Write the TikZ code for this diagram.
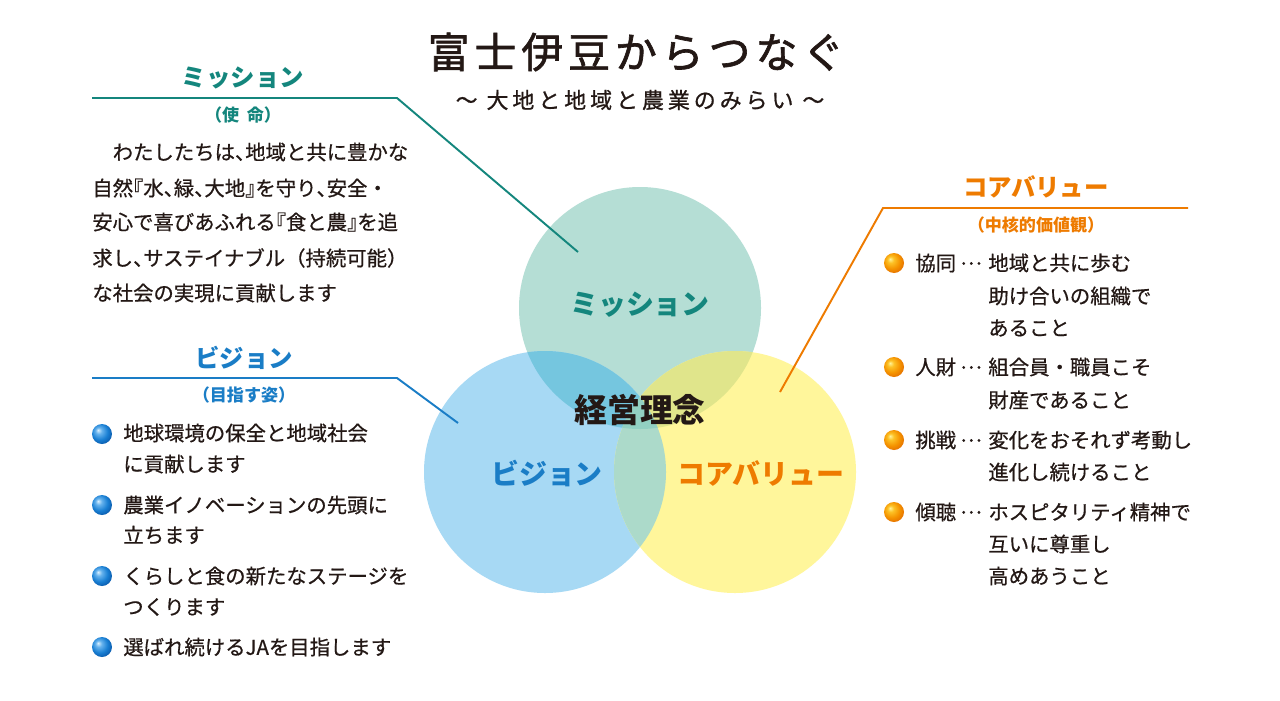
\documentclass[tikz,border=0pt]{standalone}
\usepackage{fontspec}
\setmainfont{Noto Sans CJK JP}
\usepackage{tikz}
\definecolor{ink}{HTML}{231815}
\definecolor{misgreen}{HTML}{14867D}
\definecolor{visblue}{HTML}{1A7DC6}
\definecolor{coreorange}{HTML}{EE7B00}
\definecolor{misfill}{HTML}{B5DED5}
\definecolor{visfill}{HTML}{A7D9F4}
\definecolor{corefill}{HTML}{FFF69B}
\definecolor{mvfill}{HTML}{75C6DF}
\definecolor{vcfill}{HTML}{ACDACA}
\definecolor{mcfill}{HTML}{E0E58B}
\definecolor{allfill}{HTML}{92D0C2}
\pgfdeclareradialshading{bluesphere}{\pgfqpoint{-10bp}{10bp}}{rgb(0bp)=(0.85,0.94,1); rgb(8bp)=(0.40,0.70,0.93); rgb(20bp)=(0.10,0.50,0.83); rgb(30bp)=(0.04,0.36,0.68); rgb(50bp)=(0.04,0.36,0.68)}
\pgfdeclareradialshading{orangesphere}{\pgfqpoint{-10bp}{10bp}}{rgb(0bp)=(1,0.95,0.6); rgb(8bp)=(0.99,0.76,0.15); rgb(20bp)=(0.96,0.58,0.0); rgb(30bp)=(0.90,0.45,0.0); rgb(50bp)=(0.90,0.45,0.0)}
\newcommand{\halfp}[1]{{\addfontfeature{RawFeature=+halt}#1}}
\newcommand{\middots}{\raisebox{0.3em}{…}}

\begin{document}
\begin{tikzpicture}[x=0.02cm,y=-0.02cm,
  body/.style={anchor=west,text=ink,inner sep=0pt,font=\fontsize{11.6}{14}\selectfont\addfontfeatures{FakeBold=0.6}},
  head/.style={inner sep=0pt,font=\fontsize{13.9}{16}\selectfont\bfseries},
  subhead/.style={inner sep=0pt,font=\fontsize{9.7}{12}\selectfont\bfseries},
  ringlabel/.style={inner sep=0pt,font=\fontsize{15.9}{18}\selectfont\bfseries},
  dot/.style={circle,inner sep=0pt,minimum size=0.4cm,shading=#1},
  leader/.style={line width=1.1pt}]
\useasboundingbox (0,0) rectangle (1280,700);
\fill[white] (0,0) rectangle (1280,700);

% Title
\node[text=ink,inner sep=0pt,font=\fontsize{23.8}{28}\selectfont\addfontfeatures{LetterSpace=12,FakeBold=1.6}] (title) at (636,52) {富士伊豆からつなぐ};
\node[text=ink,inner sep=0pt,font=\fontsize{12.5}{15}\selectfont\addfontfeatures{LetterSpace=18,FakeBold=0.8}] (subtitle) at (640,100) {～ 大地と地域と農業のみらい ～};

% Venn circles
\coordinate (mis) at (640,308);
\coordinate (vis) at (545,472);
\coordinate (core) at (735,472);
\fill[misfill] (mis) circle (121);
\fill[visfill] (vis) circle (121);
\fill[corefill] (core) circle (121);
\begin{scope}
  \clip (mis) circle (121);
  \fill[mvfill] (vis) circle (121);
  \fill[mcfill] (core) circle (121);
\end{scope}
\begin{scope}
  \clip (vis) circle (121);
  \fill[vcfill] (core) circle (121);
  \clip (core) circle (121);
  \fill[allfill] (mis) circle (121);
\end{scope}
\node[ringlabel,text=misgreen] (mislabel) at (640,305) {ミッション};
\node[ringlabel,text=visblue] (vislabel) at (547,473) {ビジョン};
\node[ringlabel,text=coreorange] (corelabel) at (761,473) {コアバリュー};
\node[inner sep=0pt,text=ink,font=\fontsize{18.7}{22}\selectfont\bfseries] (philo) at (640,410) {経営理念};

% Mission block
\node[head,text=misgreen] (mishead) at (243,78) {ミッション};
\node[subhead,text=misgreen] (missub) at (243,115) {（使\hspace{0.45em}命）};
\coordinate (misL) at (92,98);
\coordinate (misK) at (397,98);
\coordinate (misE) at (578,252);
\draw[leader,misgreen] (misL) -- (misK) -- (misE);
\foreach \y/\t [count=\i] in {152/　わたしたちは\halfp{、}地域と共に豊かな,
  188/自然\halfp{『}水\halfp{、}緑\halfp{、}大地\halfp{』}を守り\halfp{、}安全・,
  222/安心で喜びあふれる\halfp{『}食と農\halfp{』}を追,
  258/求し\halfp{、}サステイナブル（持続可能）,
  293/な社会の実現に貢献します} {
  \node[body] (mistext\i) at (92,\y) {\t};
}

% Vision block
\node[head,text=visblue] (vishead) at (244,358) {ビジョン};
\node[subhead,text=visblue] (vissub) at (244,395) {（目指す姿）};
\coordinate (visL) at (92,378);
\coordinate (visK) at (397,378);
\coordinate (visE) at (458,423);
\draw[leader,visblue] (visL) -- (visK) -- (visE);
\foreach \y [count=\i] in {434,505,576,647} {
  \node[dot=bluesphere] (visdot\i) at (102,\y) {};
}
\foreach \y/\t [count=\i] in {433/地球環境の保全と地域社会,
  464/に貢献します,
  505/農業イノベーションの先頭に,
  535/立ちます,
  576/くらしと食の新たなステージを,
  607/つくります,
  647/選ばれ続けるJAを目指します} {
  \node[body] (vistext\i) at (123,\y) {\t};
}

% Core value block
\node[head,text=coreorange] (corehead) at (1036,187) {コアバリュー};
\node[subhead,text=coreorange] (coresub) at (1036,225) {（中核的価値観）};
\coordinate (coreR) at (1188,208);
\coordinate (coreK) at (883,208);
\coordinate (coreE) at (780,392);
\draw[leader,coreorange] (coreR) -- (coreK) -- (coreE);
\foreach \y/\k [count=\i] in {263/協同,367/人財,440/挑戦,512/傾聴} {
  \node[dot=orangesphere] (coredot\i) at (894,\y) {};
  \node[body] (corekey\i) at (915,\y) {\k\hspace{0.2em}\middots};
}
\foreach \y/\t [count=\i] in {263/地域と共に歩む,
  296/助け合いの組織で,
  328/あること,
  367/組合員・職員こそ,
  400/財産であること,
  440/変化をおそれず考動し,
  472/進化し続けること,
  512/ホスピタリティ精神で,
  544/互いに尊重し,
  576/高めあうこと} {
  \node[body] (coretext\i) at (988,\y) {\t};
}
\end{tikzpicture}
\end{document}
